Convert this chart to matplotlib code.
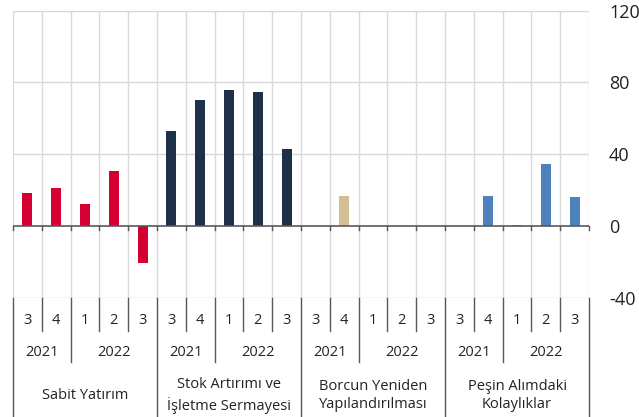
import matplotlib
matplotlib.use("Agg")
import matplotlib.pyplot as plt
import matplotlib.transforms as mtransforms

plt.rcParams['font.family'] = ['Open Sans', 'DejaVu Sans']

groups = ["Sabit Yatırım", "Stok Artırımı ve\nİşletme Sermayesi",
          "Borcun Yeniden\nYapılandırılması", "Peşin Alımdaki\nKolaylıklar"]
quarters = ["3", "4", "1", "2", "3"]
years = ["2021", "2022"]
year_counts = [2, 3]
colors = ["#D50032", "#1D3047", "#D4BE96", "#4F81BD"]
sabit = [18.3, 21.0, 12.2, 30.5, -20.6]
stok = [52.8, 70.0, 75.6, 74.4, 42.8]
borc = [0.0, 17.0, 0.0, 0.0, 0.0]
pesin = [0.0, 17.0, 0.8, 34.3, 16.1]
values = [sabit, stok, borc, pesin]
yticks = [-40, 0, 40, 80, 120]

W, H = 639, 417
fig = plt.figure(figsize=(W / 100, H / 100), dpi=100)
left, right, top, bottom = 13, 589, 10.5, 298
ax = fig.add_axes([left / W, 1 - bottom / H, (right - left) / W, (bottom - top) / H])

n_per = len(quarters)
n = n_per * len(groups)
ax.set_xlim(0, n)
ax.set_ylim(-40, 120)

for gi, (vals, col) in enumerate(zip(values, colors)):
    xs = [gi * n_per + i + 0.5 for i in range(n_per)]
    ax.bar(xs, vals, width=0.35, color=col, zorder=3)

grid_col = "#D9D9D9"
for t in yticks:
    if t != 0:
        ax.axhline(t, color=grid_col, lw=1.0, zorder=1)
for k in range(n + 1):
    ax.axvline(k, color=grid_col, lw=1.0, zorder=1)
ax.axhline(0, color="#595959", lw=1.2, zorder=4)

for s in ax.spines.values():
    s.set_visible(False)
ax.set_xticks([])
ax.yaxis.tick_right()
ax.set_yticks(yticks)
ax.set_yticklabels([str(t) for t in yticks], fontsize=13, color="#222222")
ax.tick_params(axis='y', length=0, pad=14.4)

for k in range(n + 1):
    ax.plot([k, k], [0, -2.2], color="#595959", lw=1.0, clip_on=False, zorder=4)

trans = mtransforms.blended_transform_factory(ax.transData, fig.transFigure)
def fy(py):
    return 1 - py / H

sep_col = "#595959"
lab_fs = 10.5
for gi in range(len(groups)):
    base = gi * n_per
    for i in range(1, n_per):
        x = base + i
        y_end = 362 if i == year_counts[0] else 331
        ax.plot([x, x], [fy(298), fy(y_end)], color=sep_col, lw=1.0,
                transform=trans, clip_on=False)
    for i, q in enumerate(quarters):
        ax.text(base + i + 0.5, fy(320), q, transform=trans, ha='center', va='center',
                fontsize=lab_fs, color="#222222")
    start = base
    for yl, cnt in zip(years, year_counts):
        ax.text(start + cnt / 2, fy(352), yl, transform=trans, ha='center', va='center',
                fontsize=lab_fs, color="#222222")
        start += cnt
    ax.text(base + n_per / 2, fy(395.5), groups[gi], transform=trans, ha='center',
            va='center', fontsize=lab_fs, color="#222222", linespacing=1.35)

for gi in range(len(groups) + 1):
    x = gi * n_per
    ax.plot([x, x], [fy(298), fy(417)], color=sep_col, lw=1.0,
            transform=trans, clip_on=False)

fig.savefig("out.png", dpi=100)
